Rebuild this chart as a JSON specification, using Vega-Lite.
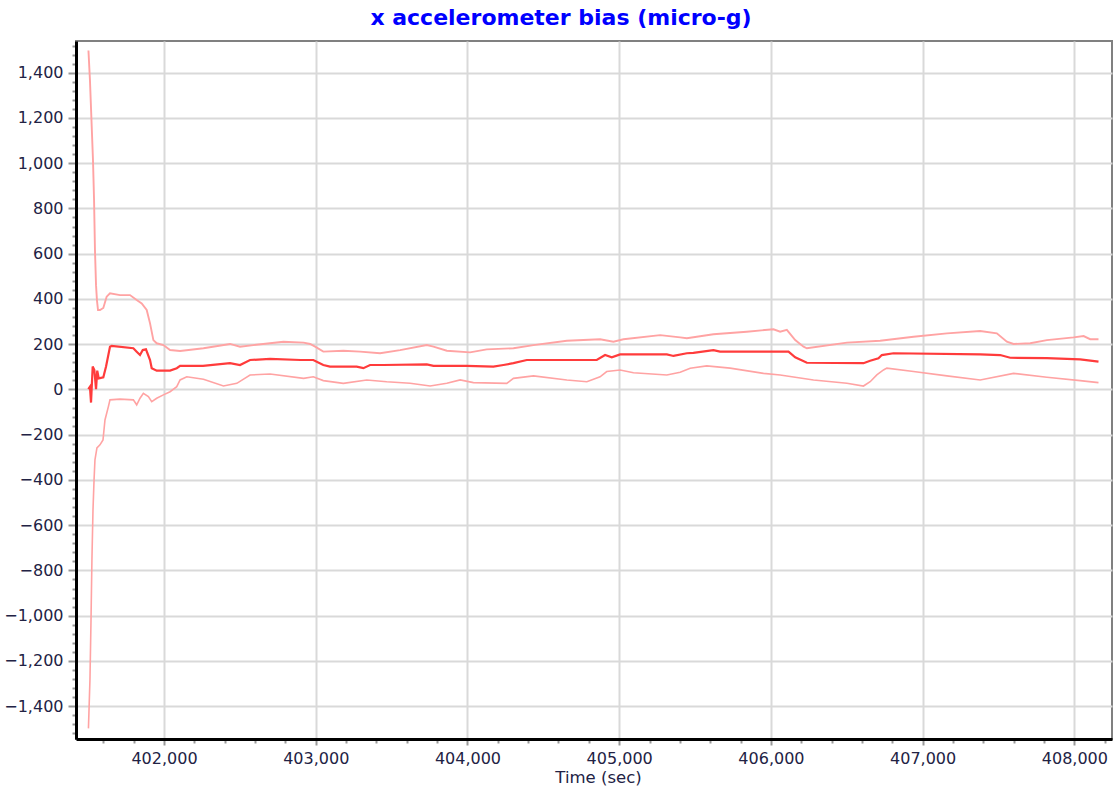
{
  "$schema": "https://vega.github.io/schema/vega-lite/v6.json",
  "autosize": {"type": "none"},
  "width": 1036,
  "height": 698,
  "padding": {"left": 76, "top": 41, "right": 6, "bottom": 56},
  "background": "white",
  "title": {
    "text": "x accelerometer bias (micro-g)",
    "color": "#0000ff",
    "font": "DejaVu Sans",
    "fontSize": 22,
    "fontWeight": "bold",
    "anchor": "middle",
    "dx": -33,
    "offset": 11
  },
  "config": {
    "view": {"stroke": "#808080", "strokeWidth": 2},
    "axis": {
      "labelFont": "DejaVu Sans",
      "titleFont": "DejaVu Sans",
      "labelColor": "#222244",
      "titleColor": "#222244"
    }
  },
  "data": {
    "values": [
      {"t": 401501, "v": 1, "series": "estimate"},
      {"t": 401512, "v": 12, "series": "estimate"},
      {"t": 401519, "v": -58, "series": "estimate"},
      {"t": 401530, "v": 101, "series": "estimate"},
      {"t": 401541, "v": 86, "series": "estimate"},
      {"t": 401552, "v": 1, "series": "estimate"},
      {"t": 401560, "v": 83, "series": "estimate"},
      {"t": 401570, "v": 49, "series": "estimate"},
      {"t": 401600, "v": 54, "series": "estimate"},
      {"t": 401618, "v": 101, "series": "estimate"},
      {"t": 401644, "v": 189, "series": "estimate"},
      {"t": 401655, "v": 192, "series": "estimate"},
      {"t": 401798, "v": 182, "series": "estimate"},
      {"t": 401820, "v": 167, "series": "estimate"},
      {"t": 401842, "v": 152, "series": "estimate"},
      {"t": 401860, "v": 174, "series": "estimate"},
      {"t": 401881, "v": 177, "series": "estimate"},
      {"t": 401908, "v": 130, "series": "estimate"},
      {"t": 401919, "v": 94, "series": "estimate"},
      {"t": 401952, "v": 83, "series": "estimate"},
      {"t": 402040, "v": 83, "series": "estimate"},
      {"t": 402084, "v": 94, "series": "estimate"},
      {"t": 402106, "v": 104, "series": "estimate"},
      {"t": 402257, "v": 104, "series": "estimate"},
      {"t": 402435, "v": 116, "series": "estimate"},
      {"t": 402501, "v": 108, "series": "estimate"},
      {"t": 402567, "v": 130, "series": "estimate"},
      {"t": 402699, "v": 135, "series": "estimate"},
      {"t": 402900, "v": 130, "series": "estimate"},
      {"t": 402984, "v": 130, "series": "estimate"},
      {"t": 403050, "v": 108, "series": "estimate"},
      {"t": 403094, "v": 101, "series": "estimate"},
      {"t": 403270, "v": 101, "series": "estimate"},
      {"t": 403314, "v": 94, "series": "estimate"},
      {"t": 403358, "v": 108, "series": "estimate"},
      {"t": 403446, "v": 108, "series": "estimate"},
      {"t": 403732, "v": 111, "series": "estimate"},
      {"t": 403776, "v": 104, "series": "estimate"},
      {"t": 403995, "v": 104, "series": "estimate"},
      {"t": 404171, "v": 101, "series": "estimate"},
      {"t": 404237, "v": 108, "series": "estimate"},
      {"t": 404303, "v": 116, "series": "estimate"},
      {"t": 404391, "v": 130, "series": "estimate"},
      {"t": 404852, "v": 130, "series": "estimate"},
      {"t": 404907, "v": 152, "series": "estimate"},
      {"t": 404951, "v": 142, "series": "estimate"},
      {"t": 405006, "v": 155, "series": "estimate"},
      {"t": 405314, "v": 155, "series": "estimate"},
      {"t": 405358, "v": 148, "series": "estimate"},
      {"t": 405446, "v": 160, "series": "estimate"},
      {"t": 405489, "v": 162, "series": "estimate"},
      {"t": 405621, "v": 174, "series": "estimate"},
      {"t": 405665, "v": 167, "series": "estimate"},
      {"t": 406116, "v": 167, "series": "estimate"},
      {"t": 406160, "v": 142, "series": "estimate"},
      {"t": 406237, "v": 118, "series": "estimate"},
      {"t": 406610, "v": 116, "series": "estimate"},
      {"t": 406654, "v": 127, "series": "estimate"},
      {"t": 406709, "v": 138, "series": "estimate"},
      {"t": 406731, "v": 152, "series": "estimate"},
      {"t": 406808, "v": 160, "series": "estimate"},
      {"t": 407379, "v": 155, "series": "estimate"},
      {"t": 407511, "v": 152, "series": "estimate"},
      {"t": 407577, "v": 140, "series": "estimate"},
      {"t": 407819, "v": 138, "series": "estimate"},
      {"t": 408038, "v": 133, "series": "estimate"},
      {"t": 408159, "v": 123, "series": "estimate"},

      {"t": 401502, "v": 1498, "series": "upper"},
      {"t": 401512, "v": 1366, "series": "upper"},
      {"t": 401522, "v": 1190, "series": "upper"},
      {"t": 401532, "v": 1013, "series": "upper"},
      {"t": 401539, "v": 836, "series": "upper"},
      {"t": 401545, "v": 616, "series": "upper"},
      {"t": 401552, "v": 461, "series": "upper"},
      {"t": 401558, "v": 395, "series": "upper"},
      {"t": 401565, "v": 351, "series": "upper"},
      {"t": 401578, "v": 351, "series": "upper"},
      {"t": 401600, "v": 360, "series": "upper"},
      {"t": 401622, "v": 410, "series": "upper"},
      {"t": 401644, "v": 425, "series": "upper"},
      {"t": 401710, "v": 417, "series": "upper"},
      {"t": 401776, "v": 417, "series": "upper"},
      {"t": 401820, "v": 395, "series": "upper"},
      {"t": 401853, "v": 380, "series": "upper"},
      {"t": 401886, "v": 351, "series": "upper"},
      {"t": 401908, "v": 292, "series": "upper"},
      {"t": 401930, "v": 218, "series": "upper"},
      {"t": 401952, "v": 204, "series": "upper"},
      {"t": 401996, "v": 196, "series": "upper"},
      {"t": 402040, "v": 174, "series": "upper"},
      {"t": 402106, "v": 170, "series": "upper"},
      {"t": 402260, "v": 182, "series": "upper"},
      {"t": 402435, "v": 201, "series": "upper"},
      {"t": 402501, "v": 189, "series": "upper"},
      {"t": 402589, "v": 196, "series": "upper"},
      {"t": 402787, "v": 211, "series": "upper"},
      {"t": 402920, "v": 207, "series": "upper"},
      {"t": 402963, "v": 201, "series": "upper"},
      {"t": 402996, "v": 189, "series": "upper"},
      {"t": 403050, "v": 167, "series": "upper"},
      {"t": 403182, "v": 171, "series": "upper"},
      {"t": 403292, "v": 167, "series": "upper"},
      {"t": 403424, "v": 160, "series": "upper"},
      {"t": 403556, "v": 174, "series": "upper"},
      {"t": 403732, "v": 196, "series": "upper"},
      {"t": 403776, "v": 189, "series": "upper"},
      {"t": 403864, "v": 171, "series": "upper"},
      {"t": 404017, "v": 164, "series": "upper"},
      {"t": 404127, "v": 177, "series": "upper"},
      {"t": 404303, "v": 182, "series": "upper"},
      {"t": 404435, "v": 196, "series": "upper"},
      {"t": 404655, "v": 215, "series": "upper"},
      {"t": 404874, "v": 222, "series": "upper"},
      {"t": 404962, "v": 211, "series": "upper"},
      {"t": 405028, "v": 222, "series": "upper"},
      {"t": 405270, "v": 240, "series": "upper"},
      {"t": 405402, "v": 230, "series": "upper"},
      {"t": 405446, "v": 226, "series": "upper"},
      {"t": 405621, "v": 244, "series": "upper"},
      {"t": 405841, "v": 255, "series": "upper"},
      {"t": 406017, "v": 266, "series": "upper"},
      {"t": 406061, "v": 255, "series": "upper"},
      {"t": 406105, "v": 263, "series": "upper"},
      {"t": 406160, "v": 218, "series": "upper"},
      {"t": 406215, "v": 189, "series": "upper"},
      {"t": 406237, "v": 182, "series": "upper"},
      {"t": 406501, "v": 207, "series": "upper"},
      {"t": 406720, "v": 215, "series": "upper"},
      {"t": 406940, "v": 233, "series": "upper"},
      {"t": 407160, "v": 248, "series": "upper"},
      {"t": 407379, "v": 258, "series": "upper"},
      {"t": 407489, "v": 248, "series": "upper"},
      {"t": 407555, "v": 211, "series": "upper"},
      {"t": 407599, "v": 201, "series": "upper"},
      {"t": 407709, "v": 204, "series": "upper"},
      {"t": 407819, "v": 218, "series": "upper"},
      {"t": 407995, "v": 230, "series": "upper"},
      {"t": 408061, "v": 236, "series": "upper"},
      {"t": 408104, "v": 222, "series": "upper"},
      {"t": 408159, "v": 222, "series": "upper"},

      {"t": 401502, "v": -1498, "series": "lower"},
      {"t": 401512, "v": -1282, "series": "lower"},
      {"t": 401519, "v": -1017, "series": "lower"},
      {"t": 401525, "v": -752, "series": "lower"},
      {"t": 401532, "v": -532, "series": "lower"},
      {"t": 401539, "v": -399, "series": "lower"},
      {"t": 401545, "v": -311, "series": "lower"},
      {"t": 401558, "v": -258, "series": "lower"},
      {"t": 401578, "v": -245, "series": "lower"},
      {"t": 401598, "v": -223, "series": "lower"},
      {"t": 401611, "v": -135, "series": "lower"},
      {"t": 401633, "v": -77, "series": "lower"},
      {"t": 401644, "v": -46, "series": "lower"},
      {"t": 401710, "v": -43, "series": "lower"},
      {"t": 401798, "v": -46, "series": "lower"},
      {"t": 401820, "v": -68, "series": "lower"},
      {"t": 401842, "v": -39, "series": "lower"},
      {"t": 401864, "v": -17, "series": "lower"},
      {"t": 401897, "v": -32, "series": "lower"},
      {"t": 401919, "v": -54, "series": "lower"},
      {"t": 401952, "v": -39, "series": "lower"},
      {"t": 401996, "v": -24, "series": "lower"},
      {"t": 402040, "v": -10, "series": "lower"},
      {"t": 402084, "v": 12, "series": "lower"},
      {"t": 402106, "v": 42, "series": "lower"},
      {"t": 402150, "v": 56, "series": "lower"},
      {"t": 402260, "v": 45, "series": "lower"},
      {"t": 402392, "v": 15, "series": "lower"},
      {"t": 402480, "v": 27, "series": "lower"},
      {"t": 402567, "v": 64, "series": "lower"},
      {"t": 402699, "v": 68, "series": "lower"},
      {"t": 402920, "v": 49, "series": "lower"},
      {"t": 402984, "v": 56, "series": "lower"},
      {"t": 403050, "v": 39, "series": "lower"},
      {"t": 403182, "v": 27, "series": "lower"},
      {"t": 403336, "v": 42, "series": "lower"},
      {"t": 403468, "v": 34, "series": "lower"},
      {"t": 403622, "v": 27, "series": "lower"},
      {"t": 403754, "v": 15, "series": "lower"},
      {"t": 403864, "v": 27, "series": "lower"},
      {"t": 403952, "v": 42, "series": "lower"},
      {"t": 404039, "v": 30, "series": "lower"},
      {"t": 404259, "v": 27, "series": "lower"},
      {"t": 404303, "v": 49, "series": "lower"},
      {"t": 404435, "v": 60, "series": "lower"},
      {"t": 404655, "v": 42, "series": "lower"},
      {"t": 404787, "v": 34, "series": "lower"},
      {"t": 404874, "v": 56, "series": "lower"},
      {"t": 404918, "v": 79, "series": "lower"},
      {"t": 405006, "v": 86, "series": "lower"},
      {"t": 405094, "v": 74, "series": "lower"},
      {"t": 405314, "v": 64, "series": "lower"},
      {"t": 405402, "v": 76, "series": "lower"},
      {"t": 405468, "v": 94, "series": "lower"},
      {"t": 405577, "v": 104, "series": "lower"},
      {"t": 405731, "v": 94, "series": "lower"},
      {"t": 405951, "v": 71, "series": "lower"},
      {"t": 406061, "v": 64, "series": "lower"},
      {"t": 406281, "v": 42, "series": "lower"},
      {"t": 406501, "v": 27, "series": "lower"},
      {"t": 406610, "v": 15, "series": "lower"},
      {"t": 406654, "v": 34, "series": "lower"},
      {"t": 406698, "v": 64, "series": "lower"},
      {"t": 406742, "v": 86, "series": "lower"},
      {"t": 406764, "v": 94, "series": "lower"},
      {"t": 406940, "v": 79, "series": "lower"},
      {"t": 407160, "v": 60, "series": "lower"},
      {"t": 407379, "v": 42, "series": "lower"},
      {"t": 407599, "v": 71, "series": "lower"},
      {"t": 407819, "v": 54, "series": "lower"},
      {"t": 408038, "v": 39, "series": "lower"},
      {"t": 408159, "v": 30, "series": "lower"}
    ]
  },
  "layer": [
    {
      "mark": {"type": "line", "opacity": 0},
      "encoding": {
        "x": {
          "field": "t", "type": "quantitative",
          "scale": {"domain": [401420, 408248], "nice": false, "zero": false},
          "axis": {
            "orient": "bottom",
            "values": [401600, 401800, 402200, 402400, 402600, 402800, 403200, 403400, 403600, 403800, 404200, 404400, 404600, 404800, 405200, 405400, 405600, 405800, 406200, 406400, 406600, 406800, 407200, 407400, 407600, 407800, 408200],
            "labels": false, "grid": false, "domain": false, "title": null,
            "ticks": true, "tickSize": 4, "tickColor": "#999999", "tickWidth": 2
          }
        },
        "y": {
          "field": "v", "type": "quantitative",
          "scale": {"domain": [-1545, 1540], "nice": false, "zero": false},
          "axis": {
            "orient": "left",
            "values": [-1520, -1480, -1440, -1360, -1320, -1280, -1240, -1160, -1120, -1080, -1040, -960, -920, -880, -840, -760, -720, -680, -640, -560, -520, -480, -440, -360, -320, -280, -240, -160, -120, -80, -40, 40, 80, 120, 160, 240, 280, 320, 360, 440, 480, 520, 560, 640, 680, 720, 760, 840, 880, 920, 960, 1040, 1080, 1120, 1160, 1240, 1280, 1320, 1360, 1440, 1480, 1520],
            "labels": false, "grid": false, "domain": false, "title": null,
            "ticks": true, "tickSize": 4, "tickColor": "#999999", "tickWidth": 2
          }
        }
      }
    },
    {
      "mark": {"type": "line", "interpolate": "linear"},
      "encoding": {
        "x": {
          "field": "t", "type": "quantitative",
          "scale": {"domain": [401420, 408248], "nice": false, "zero": false},
          "axis": {
            "orient": "bottom",
            "values": [402000, 403000, 404000, 405000, 406000, 407000, 408000],
            "format": ",d",
            "title": "Time (sec)",
            "titleFontSize": 16.5, "titleFontWeight": "normal", "titlePadding": 3, "titleX": 522,
            "labelFontSize": 16, "labelPadding": 5,
            "grid": true, "gridColor": "#d9d9d9", "gridWidth": 2,
            "domain": true, "domainColor": "#000000", "domainWidth": 3,
            "ticks": true, "tickSize": 6, "tickColor": "#999999", "tickWidth": 2
          }
        },
        "y": {
          "field": "v", "type": "quantitative",
          "scale": {"domain": [-1545, 1540], "nice": false, "zero": false},
          "axis": {
            "orient": "left",
            "values": [-1400, -1200, -1000, -800, -600, -400, -200, 0, 200, 400, 600, 800, 1000, 1200, 1400],
            "format": ",d",
            "title": null,
            "labelFontSize": 16, "labelPadding": 5,
            "grid": true, "gridColor": "#d9d9d9", "gridWidth": 2,
            "domain": true, "domainColor": "#000000", "domainWidth": 3,
            "ticks": true, "tickSize": 8, "tickColor": "#999999", "tickWidth": 2
          }
        },
        "detail": {"field": "series"},
        "color": {
          "field": "series", "type": "nominal",
          "scale": {"domain": ["estimate", "upper", "lower"], "range": ["#ff3b3b", "#ffa3a3", "#ffa3a3"]},
          "legend": null
        },
        "strokeWidth": {
          "field": "series", "type": "nominal",
          "scale": {"domain": ["estimate", "upper", "lower"], "range": [2.2, 1.6, 1.6]},
          "legend": null
        }
      }
    }
  ],
  "resolve": {"axis": {"x": "independent", "y": "independent"}}
}
